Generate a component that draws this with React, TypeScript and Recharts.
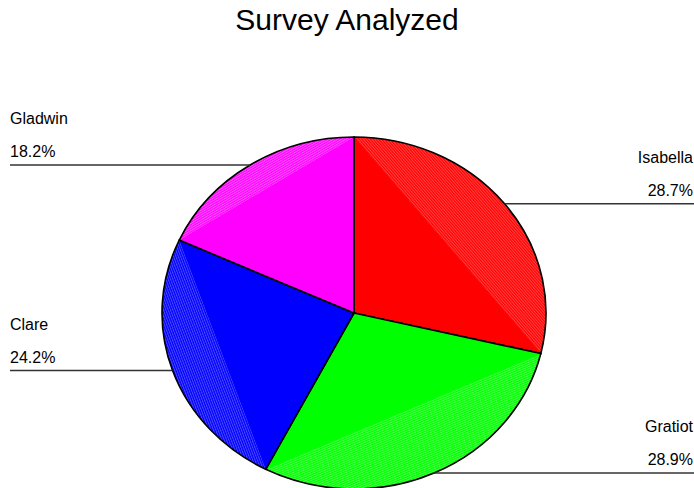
import { PieChart, Pie } from 'recharts';

const counties = ['Isabella', 'Gratiot', 'Clare', 'Gladwin'];
const shares = [28.7, 28.9, 24.2, 18.2];
const sliceColors = ['#ff0000', '#00ff00', '#0000ff', '#ff00ff'];
const hatchColors = ['#ff4444', '#4cff4c', '#4a4aff', '#ff55ff'];

const data = counties.map((name, i) => ({ name, value: shares[i] }));

const W = 694;
const H = 488;
const CX = 354;
const CY = 313;
const R = 192;
const K = 176 / 192; // vertical squash of the ellipse
const RAD = Math.PI / 180;
const FONT = '"Liberation Sans", Arial, sans-serif';

const squash = (cx: number, cy: number) =>
  `translate(${cx},${cy}) scale(1,${K}) translate(${-cx},${-cy})`;

const SliceShape = (props: any) => {
  const { cx, cy, outerRadius, startAngle, endAngle, index } = props;
  const r = outerRadius;
  const sx = cx + r * Math.cos(startAngle * RAD);
  const sy = cy - r * Math.sin(startAngle * RAD);
  const ex = cx + r * Math.cos(endAngle * RAD);
  const ey = cy - r * Math.sin(endAngle * RAD);
  const large = Math.abs(startAngle - endAngle) > 180 ? 1 : 0;
  const chordAngle = (Math.atan2(ey - sy, ex - sx) * 180) / Math.PI;
  const pid = `hatch-${index}`;
  return (
    <g transform={squash(cx, cy)}>
      <defs>
        <pattern
          id={pid}
          patternUnits="userSpaceOnUse"
          width={6}
          height={2.2}
          patternTransform={`rotate(${chordAngle})`}
        >
          <rect width={6} height={2.2} fill={sliceColors[index]} />
          <rect width={6} height={1} fill={hatchColors[index]} />
        </pattern>
      </defs>
      <path
        d={`M${cx},${cy} L${sx},${sy} A${r},${r} 0 ${large} 1 ${ex},${ey} Z`}
        fill={sliceColors[index]}
      />
      <path d={`M${sx},${sy} A${r},${r} 0 ${large} 1 ${ex},${ey} Z`} fill={`url(#${pid})`} />
      <path
        d={`M${cx},${cy} L${sx},${sy} A${r},${r} 0 ${large} 1 ${ex},${ey} Z`}
        fill="none"
        stroke="#000"
        strokeWidth={1.6}
        vectorEffect="non-scaling-stroke"
      />
    </g>
  );
};

const SliceLabel = (props: any) => {
  const { cx, cy, midAngle, outerRadius, name, value } = props;
  const px = cx + outerRadius * Math.cos(midAngle * RAD);
  const py = cy - outerRadius * K * Math.sin(midAngle * RAD);
  const right = px > cx;
  const edgeX = right ? W - 1 : 10;
  return (
    <g>
      <line x1={px} y1={py} x2={right ? W : 10} y2={py} stroke="#333" strokeWidth={1.6} />
      <text
        x={edgeX}
        y={py - 41}
        textAnchor={right ? 'end' : 'start'}
        fontSize={16}
        fontFamily={FONT}
        fill="#000"
      >
        {name}
      </text>
      <text
        x={edgeX}
        y={py - 8}
        textAnchor={right ? 'end' : 'start'}
        fontSize={16}
        fontFamily={FONT}
        fill="#000"
      >
        {`${Number(value).toFixed(1)}%`}
      </text>
    </g>
  );
};

export default function App() {
  return (
    <div style={{ position: 'absolute', left: 0, top: 0, width: W, height: H, background: '#fff' }}>
      <PieChart width={W} height={H} margin={{ top: 0, right: 0, bottom: 0, left: 0 }}>
        <text x={347} y={30} textAnchor="middle" fontSize={30} fontFamily={FONT} fill="#000">
          Survey Analyzed
        </text>
        <Pie
          data={data}
          dataKey="value"
          nameKey="name"
          cx={CX}
          cy={CY}
          outerRadius={R}
          startAngle={90}
          endAngle={-270}
          stroke="none"
          shape={SliceShape}
          label={SliceLabel}
          labelLine={false}
          isAnimationActive={false}
        />
      </PieChart>
    </div>
  );
}
